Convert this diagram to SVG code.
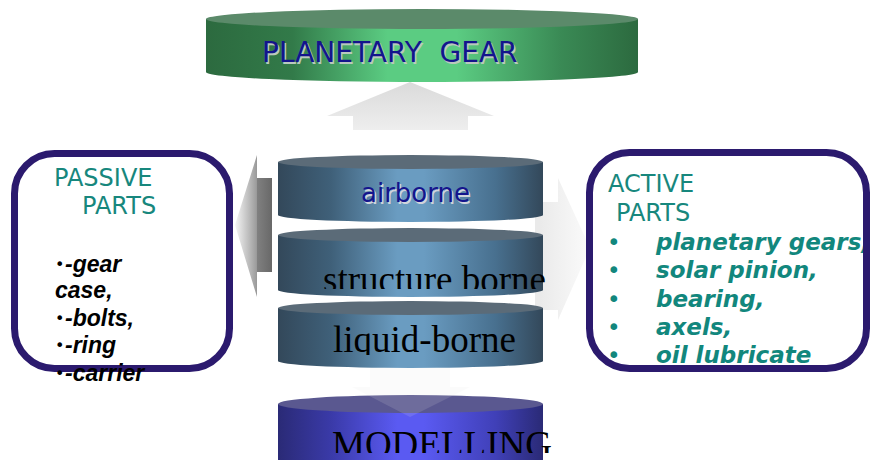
<svg xmlns="http://www.w3.org/2000/svg" width="871" height="460" viewBox="0 0 871 460">
  <style>
    .sans { font-family: "DejaVu Sans", "Liberation Sans", sans-serif; }
    .arial { font-family: "Liberation Sans", Arial, sans-serif; }
    .serif { font-family: "Liberation Serif", "Times New Roman", serif; fill: #000; font-size: 37px; }
    .head { font-size: 24px; fill: #17877d; }
    .passive { font-size: 23px; font-weight: bold; font-style: italic; fill: #000; }
    .active { font-size: 23px; font-weight: bold; font-style: italic; fill: #12877d; }
    .dot { font-size: 16px; fill: #000; }
    .tdot { font-size: 23px; fill: #12877d; }
    .box { fill: #fff; stroke: #2b1a6e; stroke-width: 7; }
    .navy { fill: #14148c; }
  </style>
  <defs>
    <linearGradient id="gGreen" x1="0" y1="0" x2="1" y2="0">
      <stop offset="0" stop-color="#2c6a3f"/>
      <stop offset="0.2" stop-color="#327a49"/>
      <stop offset="0.42" stop-color="#5bcc82"/>
      <stop offset="0.58" stop-color="#5bcc82"/>
      <stop offset="0.82" stop-color="#3a8a55"/>
      <stop offset="1" stop-color="#2c6a3f"/>
    </linearGradient>
    <linearGradient id="gSteel" x1="0" y1="0" x2="1" y2="0">
      <stop offset="0" stop-color="#33485a"/>
      <stop offset="0.2" stop-color="#3f6079"/>
      <stop offset="0.45" stop-color="#6a9cc1"/>
      <stop offset="0.55" stop-color="#6a9cc1"/>
      <stop offset="0.82" stop-color="#48708f"/>
      <stop offset="1" stop-color="#33485a"/>
    </linearGradient>
    <linearGradient id="gViolet" x1="0" y1="0" x2="1" y2="0">
      <stop offset="0" stop-color="#2a2a76"/>
      <stop offset="0.2" stop-color="#3a3aa8"/>
      <stop offset="0.45" stop-color="#5a5af2"/>
      <stop offset="0.55" stop-color="#5a5af2"/>
      <stop offset="0.82" stop-color="#4040b8"/>
      <stop offset="1" stop-color="#2a2a76"/>
    </linearGradient>
    <linearGradient id="gUp" x1="0" y1="0" x2="0" y2="1">
      <stop offset="0" stop-color="#dadada"/>
      <stop offset="1" stop-color="#eeeeee"/>
    </linearGradient>
    <linearGradient id="gLeft" x1="235" y1="0" x2="272" y2="0" gradientUnits="userSpaceOnUse">
      <stop offset="0" stop-color="#f6f6f6"/>
      <stop offset="0.58" stop-color="#9c9c9c"/>
      <stop offset="0.6" stop-color="#808080"/>
      <stop offset="1" stop-color="#686868"/>
    </linearGradient>
    <linearGradient id="gRight" x1="540" y1="0" x2="590" y2="0" gradientUnits="userSpaceOnUse">
      <stop offset="0" stop-color="#eaeaea"/>
      <stop offset="1" stop-color="#fbfbfb"/>
    </linearGradient>
    <clipPath id="clipStructure"><rect x="0" y="0" width="871" height="289"/></clipPath>
    <clipPath id="clipLiquid"><rect x="0" y="0" width="871" height="355"/></clipPath>
    <clipPath id="clipModel"><rect x="0" y="0" width="871" height="453"/></clipPath>
    <clipPath id="clipPassive"><rect x="0" y="0" width="871" height="383"/></clipPath>
  </defs>

  <g id="connectors">
    <!-- upward arrow to the top disc -->
    <path d="M353 130 L353 116 L327 116 L410 82 L494 116 L468 116 L468 130 Z" fill="url(#gUp)"/>
    <!-- faint arrow to the right box -->
    <path d="M535 202 L558 202 L558 178 L590 248 L558 320 L558 310 L535 310 Z" fill="url(#gRight)"/>
    <!-- arrow to the left box -->
    <path d="M272 178 L257 178 L257 155 L235 225 L257 297 L257 272 L272 272 Z" fill="url(#gLeft)"/>
  </g>

  <g id="planetary-gear">
    <path d="M206 19 L206 72 A216 10 0 0 0 638 72 L638 19 Z" fill="url(#gGreen)"/>
    <ellipse cx="422" cy="19" rx="216" ry="10" fill="#5b8a6a"/>
    <text x="263.5" y="63.5" class="sans" font-size="28" fill="#b9c9bd" xml:space="preserve">PLANETARY  GEAR</text>
    <text x="262" y="62" class="sans navy" font-size="28" xml:space="preserve">PLANETARY  GEAR</text>
  </g>

  <g id="airborne">
    <path d="M278 162 L278 215 A132.5 7 0 0 0 543 215 L543 162 Z" fill="url(#gSteel)"/>
    <ellipse cx="410.5" cy="162" rx="132.5" ry="7" fill="#5b6b78"/>
    <text x="362.5" y="203.5" class="sans" font-size="26" fill="#d0d4dc">airborne</text>
    <text x="361" y="202" class="sans navy" font-size="26">airborne</text>
  </g>

  <g id="structure-borne">
    <path d="M278 235 L278 290 A132.5 7 0 0 0 543 290 L543 235 Z" fill="url(#gSteel)"/>
    <ellipse cx="410.5" cy="235" rx="132.5" ry="7" fill="#5b6b78"/>
    <text x="323" y="292" class="serif" clip-path="url(#clipStructure)">structure borne</text>
  </g>

  <g id="liquid-borne">
    <path d="M278 308 L278 361 A132.5 7 0 0 0 543 361 L543 308 Z" fill="url(#gSteel)"/>
    <ellipse cx="410.5" cy="308" rx="132.5" ry="7" fill="#5b6b78"/>
    <text x="333" y="352" class="serif" clip-path="url(#clipLiquid)">liquid-borne</text>
  </g>

  <g id="modelling">
    <path d="M278 404 L278 470 L543 470 L543 404 Z" fill="url(#gViolet)"/>
    <ellipse cx="410.5" cy="404" rx="132.5" ry="9" fill="#5a5890"/>
    <text x="332" y="456.5" class="serif" clip-path="url(#clipModel)">MODELLING</text>
  </g>

  <g id="down-arrow">
    <path d="M370 368 L450 368 L450 387 L470 387 L410 417 L352 387 L370 387 Z" fill="#e4e4e4" opacity="0.15"/>
  </g>

  <g id="passive-parts">
    <rect x="14.5" y="153.5" width="215" height="215" rx="40" class="box"/>
    <text x="54" y="186" class="sans head" font-size="25">PASSIVE</text>
    <text x="82" y="214" class="sans head" font-size="25">PARTS</text>
    <g clip-path="url(#clipPassive)">
      <text x="55" y="270" class="sans dot">•</text>
      <text x="65" y="272" class="arial passive">-gear</text>
      <text x="55" y="298" class="arial passive">case,</text>
      <text x="55" y="324" class="sans dot">•</text>
      <text x="65" y="326" class="arial passive">-bolts,</text>
      <text x="55" y="351" class="sans dot">•</text>
      <text x="65" y="353" class="arial passive">-ring</text>
      <text x="55" y="379" class="sans dot">•</text>
      <text x="65" y="381" class="arial passive">-carrier</text>
    </g>
  </g>

  <g id="active-parts">
    <rect x="589.5" y="152.5" width="277" height="216" rx="40" fill="#fff"/>
    <text x="608" y="192" class="sans head">ACTIVE</text>
    <text x="616" y="221" class="sans head">PARTS</text>
    <text x="607" y="250" class="sans tdot">•</text>
    <text x="656" y="250" class="sans active">planetary gears,</text>
    <text x="607" y="278" class="sans tdot">•</text>
    <text x="656" y="278" class="sans active">solar pinion,</text>
    <text x="607" y="307" class="sans tdot">•</text>
    <text x="656" y="307" class="sans active">bearing,</text>
    <text x="607" y="335" class="sans tdot">•</text>
    <text x="656" y="335" class="sans active">axels,</text>
    <text x="607" y="363" class="sans tdot">•</text>
    <text x="656" y="363" class="sans active">oil lubricate</text>
    <rect x="589.5" y="152.5" width="277" height="216" rx="40" fill="none" stroke="#2b1a6e" stroke-width="7"/>
  </g>
</svg>
